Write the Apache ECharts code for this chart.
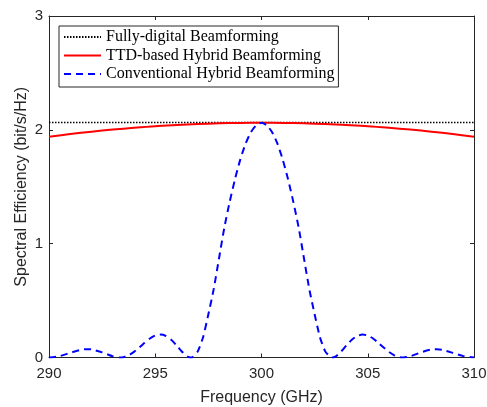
<!DOCTYPE html>
<html>
<head>
<meta charset="utf-8">
<script src="https://cdn.jsdelivr.net/npm/echarts@6/dist/echarts.min.js"></script>
<style>
html,body{margin:0;padding:0;background:#fff;}
#chart{width:487px;height:407px;}
</style>
</head>
<body>
<div id="chart"></div>
<script>
// Frequencies (GHz) and spectral efficiency (bit/s/Hz)
var refFreq = [290,291,292,293,294,295,296,297,298,299,300,301,302,303,304,305,306,307,308,309,310];
var fullyDigital = [2.065,2.065,2.065,2.065,2.065,2.065,2.065,2.065,2.065,2.065,2.065,2.065,2.065,2.065,2.065,2.065,2.065,2.065,2.065,2.065,2.065];
var ttdHybrid = [1.940,1.963,1.984,2.002,2.018,2.032,2.042,2.051,2.057,2.061,2.062,2.061,2.057,2.051,2.042,2.032,2.018,2.002,1.984,1.963,1.940];

var convFreq = [290,290.5,291,291.5,291.75,292,292.5,293,293.33,293.5,293.75,294,294.25,294.5,294.75,295,295.25,295.5,295.75,296,296.25,296.5,296.67,296.75,297,297.25,297.5,297.75,298,298.25,298.5,298.75,299,299.25,299.5,299.75,300,
  300.25,300.5,300.75,301,301.25,301.5,301.75,302,302.25,302.5,302.75,303,303.25,303.33,303.5,303.75,304,304.25,304.5,304.75,305,305.25,305.5,305.75,306,306.25,306.5,306.67,307,307.5,308,308.25,308.5,309,309.5,310];
var convHybrid = [0,0.012,0.041,0.068,0.073,0.071,0.045,0.010,0,0.003,0.019,0.049,0.087,0.129,0.167,0.193,0.201,0.189,0.156,0.107,0.053,0.010,0,0.003,0.054,0.178,0.380,0.600,0.870,1.140,1.365,1.565,1.738,1.878,1.979,2.040,2.062,
  2.040,1.979,1.878,1.738,1.565,1.365,1.140,0.870,0.600,0.380,0.178,0.054,0.003,0,0.010,0.053,0.107,0.156,0.189,0.201,0.193,0.167,0.129,0.087,0.049,0.019,0.003,0,0.010,0.045,0.071,0.073,0.068,0.041,0.012,0];

var xTicks = [290,295,300,305,310];
var yTicks = [0,1,2,3];

function pairs(xs, ys){ return xs.map(function(x,i){ return [x, ys[i]]; }); }

var axisColor = '#262626';
var sans = 'Liberation Sans';
var serif = 'Liberation Serif';

var chart = echarts.init(document.getElementById('chart'), null, {renderer:'canvas'});
var baseX = {
  type:'value', min:xTicks[0], max:xTicks[xTicks.length-1], interval:5,
  axisLine:{show:true, onZero:false, lineStyle:{color:axisColor, width:1}},
  axisTick:{show:true, inside:true, length:4, lineStyle:{color:axisColor}},
  splitLine:{show:false}
};
var baseY = {
  type:'value', min:yTicks[0], max:yTicks[yTicks.length-1], interval:1,
  axisLine:{show:true, onZero:false, lineStyle:{color:axisColor, width:1}},
  axisTick:{show:true, inside:true, length:4, lineStyle:{color:axisColor}},
  splitLine:{show:false}
};
chart.setOption({
  animation:false,
  backgroundColor:'#fff',
  grid:{left:49, top:16, width:425, height:341.5, containLabel:false, outerBoundsMode:'none'},
  xAxis:[
    Object.assign({}, baseX, {position:'bottom',
      name:'Frequency (GHz)', nameLocation:'middle', nameGap:32,
      nameTextStyle:{fontFamily:sans, fontSize:16, color:axisColor},
      axisLabel:{show:true, margin:9, fontFamily:sans, fontSize:15, color:axisColor}}),
    Object.assign({}, baseX, {position:'top', axisLabel:{show:false}})
  ],
  yAxis:[
    Object.assign({}, baseY, {position:'left',
      name:'Spectral Efficiency (bit/s/Hz)', nameLocation:'middle', nameGap:19, nameMoveOverlap:false,
      nameTextStyle:{fontFamily:sans, fontSize:16, color:axisColor},
      axisLabel:{show:true, margin:6, fontFamily:sans, fontSize:15, color:axisColor}}),
    Object.assign({}, baseY, {position:'right', axisLabel:{show:false}})
  ],
  legend:{
    show:true, orient:'vertical', left:59, top:26,
    backgroundColor:'#fff', borderColor:axisColor, borderWidth:1,
    padding:[3,4,5,4], itemGap:2.5, itemWidth:37, itemHeight:15,
    itemStyle:{opacity:0},
    textStyle:{fontFamily:serif, fontSize:16, color:'#000'},
    data:['Fully-digital Beamforming','TTD-based Hybrid Beamforming','Conventional Hybrid Beamforming']
  },
  series:[
    {name:'Fully-digital Beamforming', type:'line', data:pairs(refFreq, fullyDigital),
      symbol:'none', lineStyle:{color:'#000', width:1.5, type:[1.5,1.5]}, itemStyle:{color:'#000'}, z:2},
    {name:'TTD-based Hybrid Beamforming', type:'line', data:pairs(refFreq, ttdHybrid), smooth:0.3,
      symbol:'none', lineStyle:{color:'#ff0000', width:2}, itemStyle:{color:'#ff0000'}, z:3},
    {name:'Conventional Hybrid Beamforming', type:'line', data:pairs(convFreq, convHybrid), smooth:0.2,
      symbol:'none', lineStyle:{color:'#0000ff', width:2, type:[7,5]}, itemStyle:{color:'#0000ff'}, z:4}
  ]
});
</script>
</body>
</html>
